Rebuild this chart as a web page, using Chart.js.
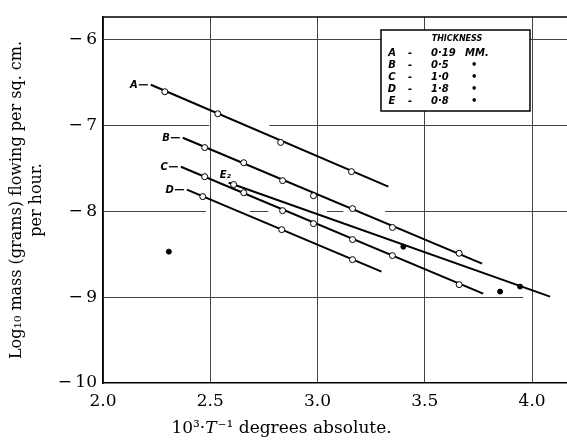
<!DOCTYPE html>
<html>
<head>
<meta charset="utf-8">
<script src="https://cdn.jsdelivr.net/npm/chart.js@4/dist/chart.umd.min.js"></script>
<style>
  html, body { margin: 0; background: #fff; overflow: hidden; }
  #wrap { width: 580px; height: 441px; }
</style>
</head>
<body>
<div id="wrap"><canvas id="chart"></canvas></div>
<script>
// tick values
const xTicks = [2.0, 2.5, 3.0, 3.5, 4.0];
const yTicks = [-10, -9, -8, -7, -6];

// fitted lines (start, end) and observed points for each sheet
const aLineX = [2.223, 3.33],  aLineY = [-6.529, -7.715];
const aObsX = [2.288, 2.535, 2.828, 3.158];
const aObsY = [-6.61, -6.866, -7.20, -7.54];

const bLineX = [2.372, 3.767], bLineY = [-7.145, -8.61];
const bObsX = [2.474, 2.656, 2.837, 2.981, 3.163, 3.349, 3.66];
const bObsY = [-7.26, -7.436, -7.645, -7.82, -7.97, -8.19, -8.49];

const cLineX = [2.363, 3.772], cLineY = [-7.483, -8.96];
const cObsX = [2.474, 2.656, 2.837, 2.981, 3.163, 3.349, 3.66];
const cObsY = [-7.599, -7.785, -7.994, -8.145, -8.331, -8.517, -8.855];

const dLineX = [2.391, 3.298], dLineY = [-7.75, -8.703];
const dObsX = [2.465, 2.833, 3.163];
const dObsY = [-7.831, -8.215, -8.564];

const eLineX = [2.586, 4.084], eLineY = [-7.669, -8.994];
const eOpenX = [2.609], eOpenY = [-7.69];
const eFilledX = [3.40, 3.944], eFilledY = [-8.413, -8.878];

const strayX = [2.307, 3.851], strayY = [-8.471, -8.936];

const sheetNames = ['A', 'B', 'C', 'D', 'E'];
const thickness = ['0·19', '0·5', '1·0', '1·8', '0·8'];

const X_MAX = 4.2, Y_TOP = -5.74;

// the horizontal rulings of the original are broken where the lines pass
const yGridRuns = {
  '-6': [[2.0, X_MAX]],
  '-7': [[2.0, 2.495], [2.775, X_MAX]],
  '-8': [[2.0, 2.48], [2.685, 2.77], [3.044, 3.12], [3.315, X_MAX]],
  '-9': [[2.0, 3.958]]
};

const pts = (xs, ys) => xs.map((v, i) => ({ x: v, y: ys[i] }));

function fitSet(xs, ys) {
  return { data: pts(xs, ys), showLine: true, borderColor: '#000', borderWidth: 2,
           pointRadius: 0, order: 2 };
}
function obsSet(xs, ys, filled) {
  return { data: pts(xs, ys), showLine: false, pointRadius: filled ? 2.5 : 3,
           pointBorderWidth: 1, pointBorderColor: '#000',
           pointBackgroundColor: filled ? '#000' : '#fff', order: 1 };
}

const lineStarts = [[aLineX, aLineY], [bLineX, bLineY], [cLineX, cLineY], [dLineX, dLineY]];

const rulings = {
  id: 'rulings',
  beforeDatasetsDraw(chart) {
    const { ctx, scales: { x, y } } = chart;
    ctx.save();
    ctx.strokeStyle = '#444';
    ctx.lineWidth = 1;
    Object.keys(yGridRuns).forEach(k => {
      const py = Math.round(y.getPixelForValue(Number(k))) + 0.5;
      yGridRuns[k].forEach(([x0, x1]) => {
        ctx.beginPath();
        ctx.moveTo(x.getPixelForValue(x0), py);
        ctx.lineTo(x.getPixelForValue(x1), py);
        ctx.stroke();
      });
    });
    // top frame
    ctx.strokeStyle = '#000';
    ctx.lineWidth = 1.5;
    const ty = y.getPixelForValue(Y_TOP);
    ctx.beginPath();
    ctx.moveTo(x.getPixelForValue(2.0), ty);
    ctx.lineTo(x.getPixelForValue(X_MAX), ty);
    ctx.stroke();
    ctx.restore();
  }
};

const annotate = {
  id: 'annotate',
  afterDatasetsDraw(chart) {
    const { ctx, scales: { x, y } } = chart;
    ctx.save();
    ctx.fillStyle = '#000';
    ctx.strokeStyle = '#000';
    ctx.lineWidth = 1.3;
    ctx.font = 'italic bold 10px "DejaVu Sans"';
    ctx.textBaseline = 'middle';
    ctx.textAlign = 'right';
    lineStarts.forEach(([lx, ly], i) => {
      const px = x.getPixelForValue(lx[0]);
      const py = y.getPixelForValue(ly[0]);
      ctx.beginPath();
      ctx.moveTo(px - 12, py);
      ctx.lineTo(px - 3, py);
      ctx.stroke();
      ctx.fillText(sheetNames[i], px - 13, py + 1);
    });
    // E label sits above the start of its line
    const ex = x.getPixelForValue(eLineX[0]);
    const ey = y.getPixelForValue(eLineY[0]);
    ctx.textAlign = 'left';
    ctx.fillText('E₂', ex - 9, ey - 7);

    // key box
    const bx = 381, by = 30, bw = 149, bh = 81;
    ctx.fillStyle = '#fff';
    ctx.fillRect(bx, by, bw, bh);
    ctx.lineWidth = 1.5;
    ctx.strokeRect(bx, by, bw, bh);
    ctx.fillStyle = '#000';
    ctx.textAlign = 'center';
    ctx.font = 'italic bold 8px "DejaVu Sans"';
    ctx.fillText('THICKNESS', 457, 39);
    ctx.font = 'italic bold 10px "DejaVu Sans"';
    sheetNames.forEach((n, i) => {
      const ry = 53 + i * 12;
      ctx.textAlign = 'center';
      ctx.fillText(n, 392, ry);
      ctx.fillText('-', 410, ry);
      ctx.textAlign = 'left';
      ctx.fillText(thickness[i], 431, ry);
      if (i === 0) ctx.fillText('MM.', 465, ry);
      else ctx.fillText('•', 471, ry);
    });

    // x axis title with italic T
    const baseY = 433;
    const p1 = '10³·', p2 = 'T', p3 = '⁻¹ degrees absolute.';
    ctx.textBaseline = 'alphabetic';
    ctx.font = '17px "DejaVu Serif"';
    const w1 = ctx.measureText(p1).width, w3 = ctx.measureText(p3).width;
    ctx.font = 'italic 17px "DejaVu Serif"';
    const w2 = ctx.measureText(p2).width;
    let sx = 281 - (w1 + w2 + w3) / 2;
    ctx.textAlign = 'left';
    ctx.font = '17px "DejaVu Serif"';
    ctx.fillText(p1, sx, baseY);
    ctx.font = 'italic 17px "DejaVu Serif"';
    ctx.fillText(p2, sx + w1, baseY);
    ctx.font = '17px "DejaVu Serif"';
    ctx.fillText(p3, sx + w1 + w2 + 1, baseY);
    ctx.restore();
  }
};

Chart.defaults.font.family = '"DejaVu Serif"';
Chart.defaults.color = '#000';

new Chart(document.getElementById('chart'), {
  type: 'scatter',
  data: {
    datasets: [
      fitSet(aLineX, aLineY), obsSet(aObsX, aObsY, false),
      fitSet(bLineX, bLineY), obsSet(bObsX, bObsY, false),
      fitSet(cLineX, cLineY), obsSet(cObsX, cObsY, false),
      fitSet(dLineX, dLineY), obsSet(dObsX, dObsY, false),
      fitSet(eLineX, eLineY), obsSet(eOpenX, eOpenY, false), obsSet(eFilledX, eFilledY, true),
      obsSet(strayX, strayY, true)
    ]
  },
  options: {
    responsive: true,
    maintainAspectRatio: false,
    animation: false,
    layout: { padding: { top: 17, right: 0, left: 0, bottom: 0 } },
    plugins: { legend: { display: false }, tooltip: { enabled: false } },
    scales: {
      x: {
        type: 'linear',
        min: 2.0,
        max: X_MAX,
        afterBuildTicks: s => { s.ticks = xTicks.map(v => ({ value: v })); },
        afterFit: s => { s.height = 58; },
        ticks: { font: { size: 17 }, padding: 8, maxRotation: 0,
                 callback: v => v.toFixed(1) },
        grid: { color: '#444', lineWidth: 1, drawTicks: false },
        border: { display: true, color: '#000', width: 1.5 },
        title: { display: false }
      },
      y: {
        type: 'linear',
        min: -10,
        max: Y_TOP,
        afterBuildTicks: s => { s.ticks = yTicks.map(v => ({ value: v })); },
        afterFit: s => { s.width = 103; },
        ticks: { font: { size: 17 }, padding: 6,
                 callback: v => '−\u2009' + Math.abs(v) },
        grid: { drawOnChartArea: false, drawTicks: false },
        border: { display: true, color: '#000', width: 1.5 },
        title: { display: true, text: ['Log₁₀ mass (grams) flowing per sq. cm.', 'per hour.'],
                 font: { size: 16, lineHeight: 1.25 }, padding: { top: 7, bottom: 0 } }
      }
    }
  },
  plugins: [rulings, annotate]
});
</script>
</body>
</html>
